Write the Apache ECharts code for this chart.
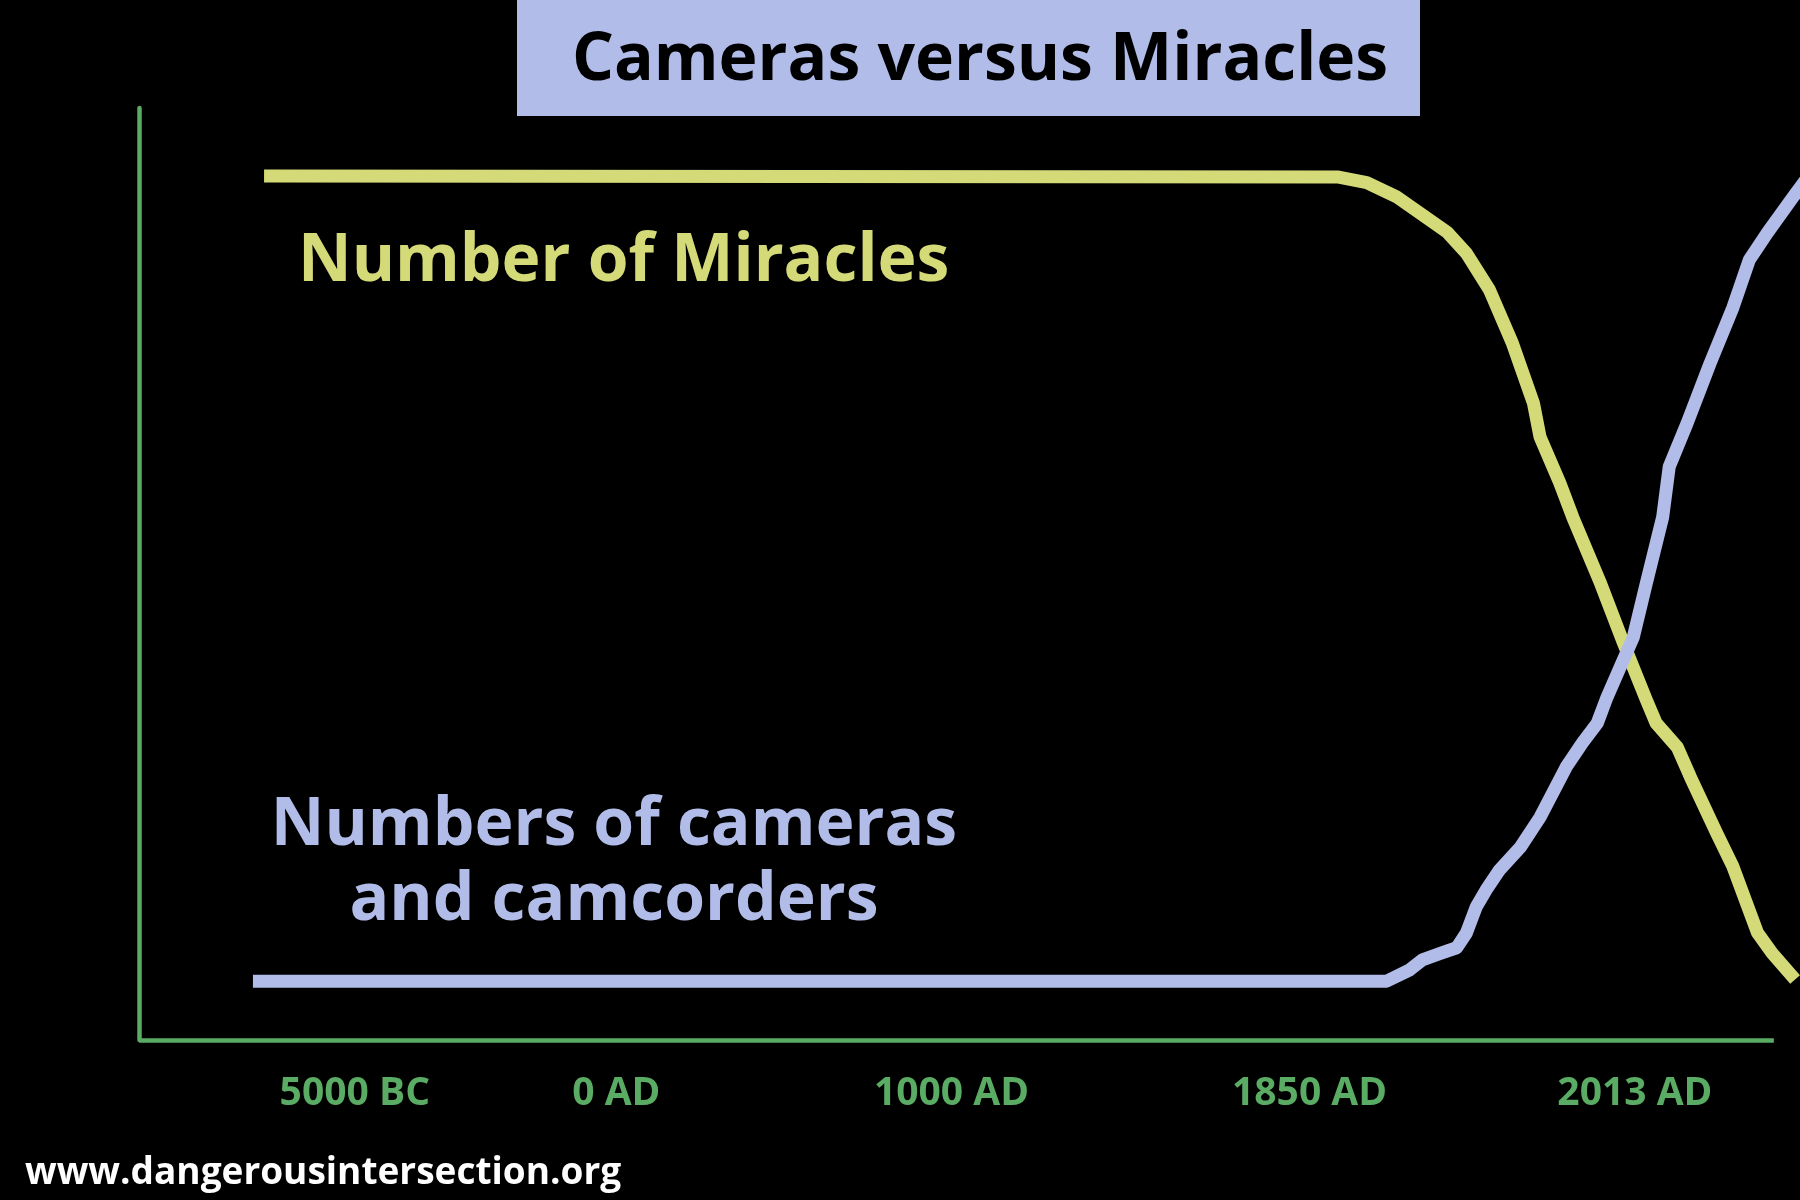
<!DOCTYPE html>
<html>
<head>
<meta charset="utf-8">
<script src="https://cdn.jsdelivr.net/npm/echarts@6/dist/echarts.min.js"></script>
<style>
  html, body { margin: 0; padding: 0; background: #000; }
  #chart { width: 1800px; height: 1200px; }
</style>
</head>
<body>
<div id="chart"></div>
<script>
// Schematic horizontal position (0 = y axis, 100 = end of drawn x axis) and relative amount (0-100)
const tickPositions = [13.2, 29.2, 49.7, 71.6, 91.5];
const tickLabels = ['5000 BC', '0 AD', '1000 AD', '1850 AD', '2013 AD'];
const axisEnd = 100;

const miraclesX = [7.65, 73.3, 75.1, 76.9, 80.0, 81.2, 82.6, 84.0, 85.3, 85.7, 86.9, 87.7, 89.4, 90.8, 92.2, 92.8, 94.1, 94.9, 96.5, 97.5, 99.0, 99.9, 101.3];
const miraclesY = [92.7, 92.6, 92.0, 90.5, 86.7, 84.4, 80.5, 74.8, 68.3, 64.7, 59.8, 56.1, 49.0, 42.6, 36.5, 34.0, 31.4, 28.2, 22.2, 18.6, 11.5, 9.3, 6.5];

const camerasX = [6.97, 76.3, 77.7, 78.5, 79.6, 80.6, 81.2, 81.8, 82.4, 83.2, 84.5, 85.7, 87.3, 88.3, 89.2, 89.8, 90.6, 91.4, 92.2, 93.2, 93.6, 94.7, 96.1, 97.5, 98.5, 99.6, 101.2, 102.3];
const camerasY = [6.3, 6.3, 7.5, 8.6, 9.3, 9.9, 11.5, 14.3, 16.1, 18.2, 20.7, 23.9, 29.3, 31.9, 34.0, 36.8, 40.0, 43.2, 49.0, 56.1, 61.5, 66.2, 72.6, 78.6, 83.7, 86.6, 90.5, 93.1];

const titleText = 'Cameras versus Miracles';
const miraclesLabel = 'Number of Miracles';
const camerasLabel = 'Numbers of cameras\nand camcorders';
const sourceText = 'www.dangerousintersection.org';

const YELLOW = '#d5da78';
const BLUE = '#b1bce9';
const GREEN = '#5aab63';
const FONT = '"Open Sans", "Noto Sans", sans-serif';

const chart = echarts.init(document.getElementById('chart'), null, { renderer: 'canvas' });

const zip = (xs, ys) => xs.map((x, i) => [x, ys[i]]);

chart.setOption({
  backgroundColor: '#000000',
  animation: false,
  title: {
    text: titleText,
    left: 980,
    textAlign: 'center',
    top: 28,
    padding: 0,
    textStyle: {
      color: '#000000',
      fontFamily: FONT,
      fontWeight: 'bold',
      fontSize: 66,
      lineHeight: 66
    },
    z: 10
  },
  grid: { left: 139, right: 0, top: 108, bottom: 160, containLabel: false },
  xAxis: {
    type: 'value',
    min: 0,
    max: 101.6,
    axisLine: { show: false },
    axisTick: { show: false },
    splitLine: { show: false },
    axisLabel: {
      customValues: tickPositions,
      formatter: (v) => {
        const i = tickPositions.indexOf(v);
        return i >= 0 ? tickLabels[i] : '';
      },
      color: GREEN,
      fontFamily: FONT,
      fontWeight: 'bold',
      fontSize: 39,
      lineHeight: 39,
      margin: 34
    }
  },
  yAxis: {
    type: 'value',
    min: 0,
    max: 100,
    axisLine: { show: true, onZero: false, lineStyle: { color: GREEN, width: 4.5 } },
    axisTick: { show: false },
    splitLine: { show: false },
    axisLabel: { show: false }
  },
  graphic: [
    {
      type: 'rect',
      shape: { x: 517, y: 0, width: 903, height: 116 },
      style: { fill: BLUE },
      z: 5
    },
    {
      type: 'text',
      x: 298, y: 262,
      style: {
        text: miraclesLabel,
        fill: YELLOW,
        font: 'bold 66px ' + FONT,
        align: 'left',
        verticalAlign: 'middle'
      }
    },
    {
      type: 'text',
      x: 614, y: 864,
      style: {
        text: camerasLabel,
        fill: BLUE,
        font: 'bold 66px ' + FONT,
        lineHeight: 75,
        align: 'center',
        verticalAlign: 'middle'
      }
    },
    {
      type: 'text',
      x: 25, y: 1173,
      style: {
        text: sourceText,
        fill: '#ffffff',
        font: 'bold 37px ' + FONT,
        align: 'left',
        verticalAlign: 'middle'
      }
    }
  ],
  series: [
    {
      name: 'Number of Miracles',
      type: 'line',
      data: zip(miraclesX, miraclesY),
      showSymbol: false,
      clip: false,
      silent: true,
      lineStyle: { color: YELLOW, width: 13, join: 'round' },
      markLine: {
        silent: true,
        symbol: ['none', 'none'],
        label: { show: false },
        lineStyle: { color: GREEN, width: 4.5, type: 'solid' },
        emphasis: { disabled: true },
        data: [[{ coord: [0, 0] }, { coord: [axisEnd, 0] }]]
      }
    },
    {
      name: 'Numbers of cameras and camcorders',
      type: 'line',
      data: zip(camerasX, camerasY),
      showSymbol: false,
      clip: false,
      silent: true,
      lineStyle: { color: BLUE, width: 13, join: 'round' }
    }
  ]
});
</script>
</body>
</html>
